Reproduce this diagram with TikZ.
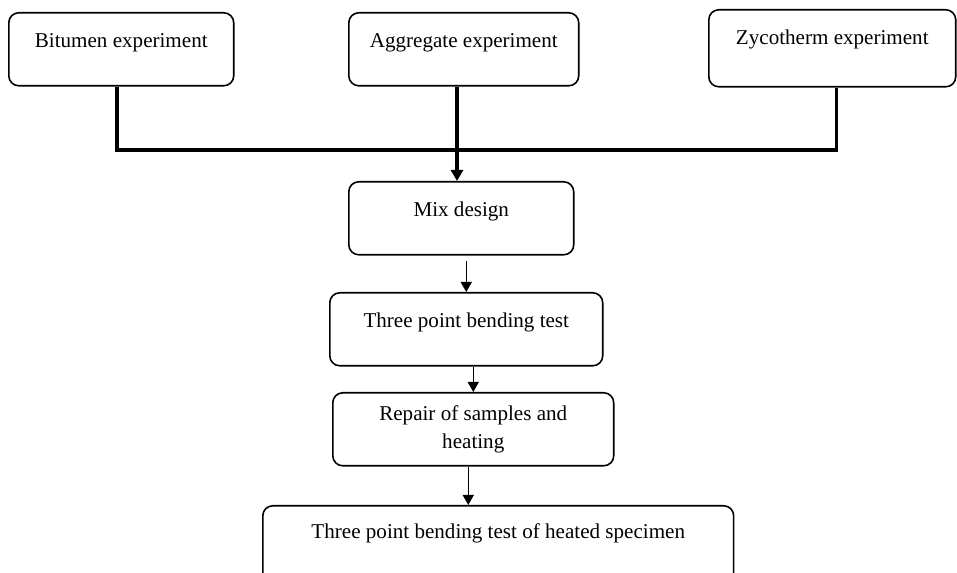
\documentclass[tikz,border=0pt]{standalone}
\usepackage{fontspec}
\setmainfont{Liberation Serif}
\usepackage{tikz}
\usetikzlibrary{arrows.meta, positioning, calc}

\begin{document}
\begin{tikzpicture}[x=0.02cm, y=-0.02cm, font=\fontsize{12}{16}\selectfont]
\tikzstyle{box}=[rectangle, draw, line width=0.9pt, rounded corners=0.2cm, inner ysep=0pt, anchor=north west, align=center]
\tikzstyle{onebox}=[box, text height=0.69cm, text depth=0.77cm]
\tikzstyle{bus}=[line width=2pt]
\tikzstyle{flow}=[line width=0.8pt, -{Triangle[length=0.2cm, width=0.22cm]}]

\useasboundingbox (0,0) rectangle (957,573);

% the three experiments
\node[onebox, minimum width=4.5cm] (bit) at (8,12) {Bitumen experiment};
\node[onebox, minimum width=4.6cm] (agg) at (348,12) {Aggregate experiment};
\node[onebox, minimum width=4.94cm, text depth=0.85cm] (zyc) at (708,9) {Zycotherm experiment};

% the chain below
\node[onebox, minimum width=4.5cm] (mix) at (348,181) {Mix design};
\node[onebox, minimum width=5.46cm] (tpb) at (329,292) {Three point bending test};
\node[box, minimum width=5.62cm, minimum height=1.46cm] (rep) at (332,392) {Repair of samples and\\heating};
\node[box, minimum width=9.42cm, text height=0.66cm, text depth=1.7cm] (heat) at (262,505) {Three point bending test of heated specimen};

\coordinate (j) at (457,150);
\draw[bus] ([xshift=-0.09cm]bit.south) |- (j) -| ([xshift=0.08cm]zyc.south);
\draw[bus, -{Triangle[length=0.22cm, width=0.24cm]}] (agg.south -| j) -- (mix.north -| j);

\draw[flow, shorten <=0.1cm] (mix.south -| tpb) -- (tpb.north);
\draw[flow] (tpb.south -| rep) -- (rep.north);
\draw[flow] ([xshift=-0.1cm]rep.south) -- ([xshift=-0.1cm]rep.south |- heat.north);
\end{tikzpicture}
\end{document}
